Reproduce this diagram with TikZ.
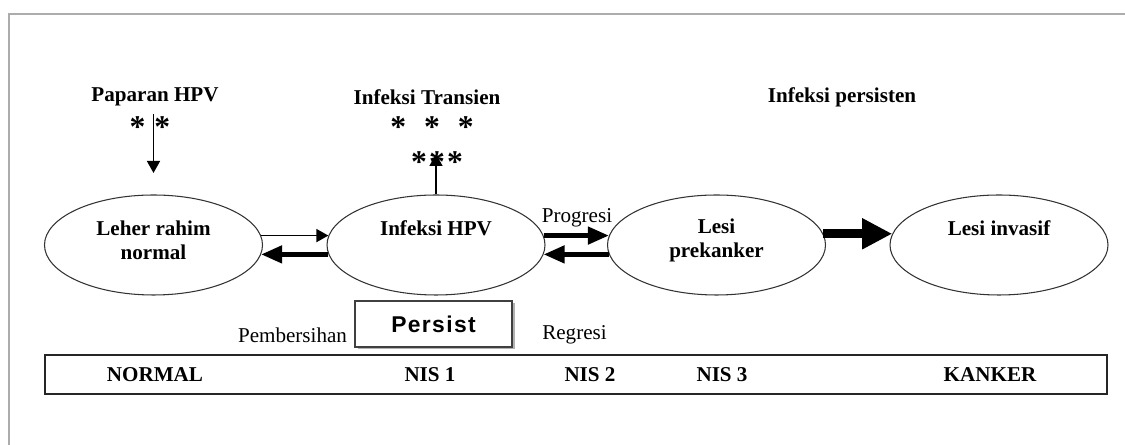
\documentclass[tikz,border=0pt]{standalone}
\usepackage{fontspec}
\setmainfont{Liberation Serif}
\newfontfamily\persistfont[LetterSpace=6]{Liberation Sans}
\usepackage{tikz}
\usetikzlibrary{arrows.meta, shapes.geometric, shadows}

\begin{document}
\begin{tikzpicture}[
  stage/.style = {draw=gray!40!black, line width=0.6pt, ellipse, minimum width=4.36cm, minimum height=2cm},
  boldlabel/.style = {font=\fontsize{12}{13.6}\selectfont\bfseries, align=center},
  plainlabel/.style = {font=\fontsize{12}{13.6}\selectfont},
  stars/.style = {font=\fontsize{18}{18}\selectfont\bfseries, inner sep=0pt},
  thinarrow/.style = {line width=0.85pt, -{Triangle[length=0.24cm, width=0.26cm]}},
  thickarrow/.style = {line width=2.6pt, -{Triangle[length=0.42cm, width=0.34cm]}},
  bigarrow/.style = {line width=5pt, -{Triangle[length=0.6cm, width=0.58cm]}}
]
\useasboundingbox (0,0) rectangle (22.5,8.9);

% frame
\draw[gray!65, line width=1.1pt] (0.18,0) -- (0.18,8.62) -- (22.5,8.62);

% stages
\node[stage] (normal) at (3.07,4) {};
\node[stage] (hpv) at (8.72,4) {};
\node[stage] (prekanker) at (14.33,4) {};
\node[stage] (invasif) at (19.98,4) {};

\node[boldlabel] (normaltext) at ([yshift=0.1cm]normal.center) {Leher rahim\\normal};
\node[boldlabel] (hpvtext) at ([yshift=0.34cm]hpv.center) {Infeksi HPV};
\node[boldlabel] (prekankertext) at ([yshift=0.1cm]prekanker.center) {Lesi\\prekanker};
\node[boldlabel] (invasiftext) at ([yshift=0.34cm]invasif.center) {Lesi invasif};

% top labels
\node[boldlabel] (paparan) at (3.1,6.96) {Paparan HPV};
\node[stars] (paparanstars) at (3.0,6.35) {*\hspace{0.18cm}*};
\node[boldlabel] (transien) at (8.54,6.96) {Infeksi Transien};
\node[stars] (transienstars) at (8.64,6.35) {*\hspace{0.36cm}*\hspace{0.36cm}*};
\node[stars] (transienstack) at (8.74,5.65) {*\kern1.2pt*\kern1.2pt*};
\node[boldlabel] (persisten) at (16.84,6.96) {Infeksi persisten};

\coordinate (papartop) at (3.07,6.62);
\coordinate (paparend) at (3.07,5.44);
\coordinate (transientip) at (8.72,5.82);
\draw[thinarrow] (papartop) -- (paparend);
\draw[thinarrow] (hpv.north) -- (transientip);

% transitions
\draw[thinarrow] (normal.5) -- (hpv.175);
\draw[thickarrow] (hpv.185) -- (normal.355);
\draw[thickarrow] (hpv.5) -- (prekanker.175);
\draw[thickarrow] (prekanker.185) -- (hpv.355);
\draw[bigarrow] (prekanker.6) -- (invasif.174);

\node[plainlabel] (progresi) at (11.54,4.54) {Progresi};
\node[plainlabel] (pembersihan) at (5.85,2.2) {Pembersihan};
\node[plainlabel] (regresi) at (11.49,2.2) {Regresi};

\node[draw=gray!50!black, line width=0.7pt, fill=white, minimum width=3.14cm, minimum height=0.92cm,
      drop shadow={shadow xshift=0.05cm, shadow yshift=-0.05cm, fill=gray!60, opacity=1}]
      (persist) at (8.67,2.42) {\fontsize{13}{14}\persistfont\bfseries Persist};

% stage bar
\node[draw=gray!30!black, line width=0.8pt, minimum width=21.24cm, minimum height=0.78cm] (bar) at (11.52,1.41) {};
\node[boldlabel] (barnormal) at (3.1,1.4) {NORMAL};
\node[boldlabel] (nis1) at (8.6,1.4) {NIS 1};
\node[boldlabel] (nis2) at (11.8,1.4) {NIS 2};
\node[boldlabel] (nis3) at (14.44,1.4) {NIS 3};
\node[boldlabel] (kanker) at (19.8,1.4) {KANKER};

\end{tikzpicture}
\end{document}
